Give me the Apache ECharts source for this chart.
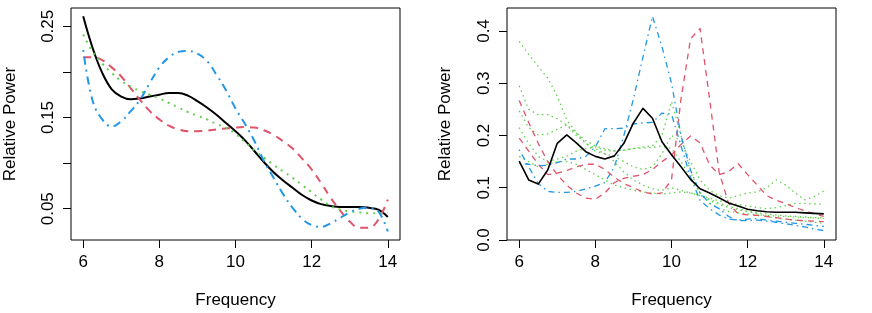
<!DOCTYPE html>
<html><head><meta charset="utf-8">
<script src="https://cdn.jsdelivr.net/npm/echarts@6/dist/echarts.min.js"></script>
<style>html,body{margin:0;padding:0;background:#fff}#c{width:872px;height:313px}</style>
</head><body><div id="c"></div>
<script>
// Frequency grid (Hz)
const freq = [6,6.25,6.5,6.75,7,7.25,7.5,7.75,8,8.25,8.5,8.75,9,9.25,9.5,9.75,10,10.25,10.5,10.75,11,11.25,11.5,11.75,12,12.25,12.5,12.75,13,13.25,13.5,13.75,14];

// Left panel: smoothed spectra
const leftBlack = [0.261,0.226,0.199,0.181,0.173,0.170,0.171,0.173,0.175,0.177,0.177,0.174,0.168,0.161,0.153,0.144,0.135,0.125,0.113,0.101,0.090,0.081,0.073,0.065,0.059,0.055,0.053,0.052,0.052,0.052,0.051,0.049,0.041];
const leftRed   = [0.216,0.216,0.213,0.205,0.195,0.182,0.169,0.157,0.148,0.141,0.137,0.135,0.135,0.1355,0.137,0.138,0.139,0.1395,0.139,0.136,0.131,0.124,0.116,0.105,0.093,0.078,0.062,0.048,0.036,0.029,0.029,0.038,0.060];
const leftGreen = [0.241,0.222,0.209,0.199,0.190,0.184,0.179,0.175,0.171,0.166,0.161,0.156,0.152,0.148,0.143,0.139,0.132,0.123,0.114,0.106,0.098,0.091,0.084,0.076,0.068,0.060,0.053,0.049,0.047,0.046,0.045,0.045,0.046];
const leftBlue  = [0.224,0.168,0.148,0.140,0.146,0.157,0.170,0.188,0.205,0.216,0.222,0.223,0.220,0.212,0.197,0.180,0.160,0.143,0.124,0.102,0.084,0.066,0.051,0.039,0.032,0.030,0.034,0.040,0.046,0.050,0.051,0.047,0.025];

// Right panel: raw spectra
const rightBlack = [0.151,0.115,0.107,0.134,0.185,0.201,0.186,0.169,0.160,0.155,0.161,0.185,0.224,0.252,0.233,0.188,0.163,0.140,0.116,0.098,0.090,0.081,0.071,0.065,0.059,0.056,0.054,0.053,0.053,0.053,0.052,0.051,0.050];
const rightBlue1 = [0.173,0.140,0.108,0.093,0.091,0.091,0.093,0.098,0.103,0.110,0.140,0.200,0.270,0.350,0.428,0.370,0.300,0.200,0.134,0.090,0.070,0.060,0.045,0.037,0.037,0.038,0.036,0.034,0.031,0.028,0.025,0.021,0.018];
const rightBlue2 = [0.147,0.145,0.142,0.143,0.148,0.155,0.155,0.160,0.178,0.213,0.213,0.214,0.222,0.224,0.225,0.243,0.241,0.180,0.120,0.076,0.060,0.048,0.040,0.038,0.040,0.041,0.038,0.036,0.034,0.032,0.030,0.028,0.026];
const rightRed1 = [0.267,0.225,0.185,0.150,0.125,0.105,0.090,0.080,0.078,0.090,0.110,0.118,0.122,0.125,0.135,0.150,0.163,0.183,0.199,0.186,0.144,0.125,0.131,0.146,0.125,0.105,0.085,0.076,0.070,0.062,0.056,0.050,0.045];
const rightRed2 = [0.195,0.170,0.145,0.125,0.128,0.133,0.140,0.145,0.145,0.135,0.120,0.108,0.100,0.092,0.088,0.090,0.115,0.270,0.385,0.405,0.270,0.130,0.070,0.050,0.048,0.047,0.045,0.043,0.040,0.038,0.037,0.036,0.035];
const rightGreen1 = [0.380,0.355,0.332,0.310,0.275,0.230,0.205,0.190,0.180,0.175,0.170,0.172,0.175,0.178,0.180,0.200,0.265,0.200,0.130,0.090,0.075,0.068,0.062,0.058,0.055,0.052,0.050,0.048,0.046,0.045,0.044,0.043,0.042];
const rightGreen2 = [0.295,0.250,0.240,0.240,0.232,0.220,0.205,0.185,0.170,0.165,0.160,0.150,0.140,0.135,0.140,0.165,0.200,0.190,0.150,0.115,0.095,0.085,0.080,0.085,0.090,0.092,0.100,0.115,0.105,0.090,0.077,0.083,0.094];
const rightGreen3 = [0.247,0.215,0.201,0.203,0.212,0.220,0.200,0.185,0.175,0.165,0.150,0.130,0.115,0.105,0.098,0.095,0.100,0.095,0.090,0.085,0.080,0.075,0.072,0.068,0.065,0.062,0.060,0.062,0.066,0.070,0.070,0.069,0.068];
const rightGreen4 = [0.215,0.185,0.160,0.150,0.155,0.160,0.170,0.175,0.178,0.172,0.170,0.172,0.175,0.176,0.177,0.180,0.175,0.150,0.120,0.090,0.070,0.060,0.055,0.052,0.050,0.048,0.047,0.046,0.045,0.044,0.043,0.042,0.041];
const rightGreen5 = [0.160,0.150,0.140,0.145,0.150,0.150,0.145,0.135,0.125,0.115,0.105,0.100,0.095,0.092,0.090,0.088,0.090,0.092,0.090,0.085,0.078,0.070,0.065,0.060,0.055,0.050,0.045,0.042,0.040,0.038,0.036,0.034,0.032];

// Axis ticks / labels
const xTicks = [6,8,10,12,14];
const leftYTicks = [0.05,0.10,0.15,0.20,0.25];
const leftYLabels = [0.05,0.15,0.25];
const rightYTicks = [0,0.1,0.2,0.3,0.4];
const xTitle = 'Frequency';
const yTitle = 'Relative Power';

const C = {black:'#000000', red:'#DF536B', green:'#61D04F', blue:'#2297E6'};
const FONT = '"Liberation Sans", Arial, Helvetica, sans-serif';

function pts(vals){ return freq.map((f,i)=>[f, vals[i]]); }
function line(idx, vals, color, type, width, smooth, z){
  return {type:'line', xAxisIndex:idx, yAxisIndex:idx, data:pts(vals), showSymbol:false, symbol:'none',
    smooth:smooth, silent:true, animation:false, z:z||2,
    lineStyle:{color:color, width:width, type:type, cap:'butt', join:'round'}};
}
function xAxis(idx){
  return {gridIndex:idx, type:'value', min:5.68, max:14.32,
    axisLine:{show:false}, splitLine:{show:false},
    axisTick:{show:true, inside:false, length:8, lineStyle:{color:'#000', width:1}, customValues:xTicks},
    axisLabel:{customValues:xTicks, fontSize:17, color:'#000', fontFamily:FONT, margin:14, formatter:v=>String(v)}};
}
function yAxis(idx, min, max, ticks, labels, dec){
  return {gridIndex:idx, type:'value', min:min, max:max,
    axisLine:{show:false}, splitLine:{show:false},
    axisTick:{show:true, inside:false, length:8, lineStyle:{color:'#000', width:1}, customValues:ticks},
    axisLabel:{customValues:labels, fontSize:17, color:'#000', fontFamily:FONT, rotate:90, margin:14,
      formatter:v=>Number(v).toFixed(dec)}};
}

const chart = echarts.init(document.getElementById('c'), null, {renderer:'canvas'});
const LW = 2, RW = 1.3;
const option = {
  animation:false,
  backgroundColor:'#fff',
  grid:[
    {left:71, top:8, width:329, height:232, show:true, borderColor:'#000', borderWidth:1, backgroundColor:'transparent'},
    {left:507, top:8, width:329, height:232, show:true, borderColor:'#000', borderWidth:1, backgroundColor:'transparent'}
  ],
  xAxis:[xAxis(0), xAxis(1)],
  yAxis:[
    yAxis(0, 0.0157, 0.2701, leftYTicks, leftYLabels, 2),
    yAxis(1, 0, 0.444, rightYTicks, rightYTicks, 1)
  ],
  series:[
    line(0, leftBlack, C.black, 'solid', LW, 0.4, 2),
    line(0, leftRed, C.red, [8,6], LW, 0.4, 3),
    line(0, leftGreen, C.green, [2,5], LW, 0.4, 3),
    line(0, leftBlue, C.blue, [2,5,8,5], LW, 0.4, 3),
    line(1, rightGreen1, C.green, [1.5,3.5], RW, false, 2),
    line(1, rightGreen2, C.green, [1.5,3.5], RW, false, 2),
    line(1, rightGreen3, C.green, [1.5,3.5], RW, false, 2),
    line(1, rightGreen4, C.green, [1.5,3.5], RW, false, 2),
    line(1, rightGreen5, C.green, [1.5,3.5], RW, false, 2),
    line(1, rightRed1, C.red, [6,5], RW, false, 2),
    line(1, rightRed2, C.red, [6,5], RW, false, 2),
    line(1, rightBlue1, C.blue, [1.5,4,6,4], RW, false, 2),
    line(1, rightBlue2, C.blue, [1.5,4,6,4], RW, false, 2),
    line(1, rightBlack, C.black, 'solid', 1.6, false, 4)
  ],
  graphic:[
    {type:'text', x:235.5, y:300, style:{text:xTitle, font:'17px '+FONT, fill:'#000', align:'center', verticalAlign:'middle'}},
    {type:'text', x:671.5, y:300, style:{text:xTitle, font:'17px '+FONT, fill:'#000', align:'center', verticalAlign:'middle'}},
    {type:'text', x:10, y:124, rotation:Math.PI/2, style:{text:yTitle, font:'17px '+FONT, fill:'#000', align:'center', verticalAlign:'middle'}},
    {type:'text', x:445.5, y:124, rotation:Math.PI/2, style:{text:yTitle, font:'17px '+FONT, fill:'#000', align:'center', verticalAlign:'middle'}}
  ]
};
chart.setOption(option);
</script>
</body></html>
